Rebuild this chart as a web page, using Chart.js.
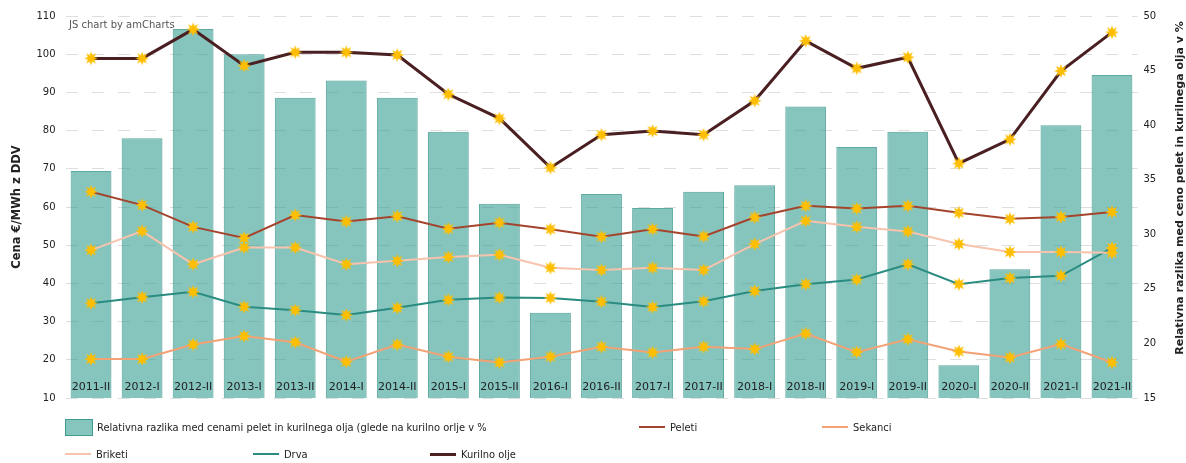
<!DOCTYPE html>
<html>
<head>
<meta charset="utf-8">
<script src="https://cdn.jsdelivr.net/npm/chart.js@4.4.0/dist/chart.umd.min.js"></script>
<style>
  html, body { margin: 0; padding: 0; background: #fff; }
  #wrap { position: relative; width: 1186px; height: 463px; }
  #c { position: absolute; left: 0; top: 0; }
  .lg { position: absolute; display: flex; align-items: center; height: 18px;
        font: 11px "DejaVu Sans Condensed", "DejaVu Sans", sans-serif; color: #222; white-space: nowrap; }
  .lg span.sw { display: inline-block; margin-right: 5px; }
  .wm { position: absolute; left: 69px; top: 19px; font: 10px "DejaVu Sans", sans-serif; color: #555; }
</style>
</head>
<body>
<div id="wrap">
  <canvas id="c" width="1186" height="463"></canvas>
  <div class="wm">JS chart by amCharts</div>
</div>
<script>
const periods = ['2011-II', '2012-I', '2012-II', '2013-I', '2013-II', '2014-I', '2014-II', '2015-I', '2015-II', '2016-I',
  '2016-II', '2017-I', '2017-II', '2018-I', '2018-II', '2019-I', '2019-II', '2020-I', '2020-II', '2021-I', '2021-II'];

// relativna razlika (desna os, %)
const razlika = [35.8, 38.8, 48.8, 46.5, 42.5, 44.1, 42.5, 39.4, 32.8, 22.8, 33.7, 32.4, 33.9, 34.5, 41.7, 38.0, 39.4, 18.0, 26.8, 40.0, 44.6];

// cene (leva os, €/MWh)
const peleti = [64.0, 60.5, 54.8, 51.9, 57.9, 56.2, 57.6, 54.3, 55.9, 54.2, 52.2, 54.2, 52.3, 57.3, 60.3, 59.6, 60.3, 58.5, 56.9, 57.4, 58.7];
const sekanci = [20.2, 20.2, 24.0, 26.2, 24.6, 19.5, 24.0, 20.8, 19.3, 20.8, 23.4, 21.9, 23.4, 22.8, 26.9, 22.0, 25.4, 22.2, 20.6, 24.1, 19.3];
const briketi = [48.7, 53.7, 45.0, 49.4, 49.4, 45.0, 45.9, 46.9, 47.5, 44.1, 43.5, 44.1, 43.5, 50.3, 56.4, 54.8, 53.6, 50.3, 48.2, 48.2, 48.0];
const drva = [34.8, 36.4, 37.8, 33.9, 33.0, 31.7, 33.6, 35.7, 36.3, 36.2, 35.2, 33.8, 35.3, 38.0, 39.8, 41.0, 45.0, 39.8, 41.4, 42.0, 49.3];
const kurilnoOlje = [98.9, 98.9, 106.5, 97.0, 100.5, 100.5, 99.8, 89.5, 83.2, 70.3, 78.9, 79.9, 78.9, 87.8, 103.5, 96.3, 99.2, 71.4, 77.7, 95.6, 105.7];

const leftTitle = 'Cena €/MWh z DDV';
const rightTitle = 'Relativna razlika med ceno pelet in kurilnega olja v %';
const barLabel = 'Relativna razlika med cenami pelet in kurilnega olja (glede na kurilno orlje v %';

// zvezdica za točke
function makeStar() {
  const s = document.createElement('canvas');
  s.width = 16; s.height = 16;
  const g = s.getContext('2d');
  g.fillStyle = '#ffbf00';
  g.beginPath();
  for (let i = 0; i < 16; i++) {
    const r = i % 2 === 0 ? 7 : 3.4;
    const a = -Math.PI / 2 + i * Math.PI / 8;
    const px = 8 + r * Math.cos(a), py = 8 + r * Math.sin(a);
    if (i === 0) g.moveTo(px, py); else g.lineTo(px, py);
  }
  g.closePath();
  g.fill();
  return s;
}
const star = makeStar();

function lineSet(label, data, color, width) {
  return {
    type: 'line', label: label, data: data, yAxisID: 'y',
    borderColor: color, backgroundColor: color, borderWidth: width,
    pointStyle: star, pointRadius: 8, pointHoverRadius: 8,
    tension: 0, order: 0
  };
}

const overlay = {
  id: 'overlay',
  afterDatasetsDraw(chart) {
    const { ctx, chartArea, scales } = chart;
    ctx.save();
    ctx.font = '11px "DejaVu Sans"';
    ctx.fillStyle = '#222';
    ctx.textAlign = 'center';
    ctx.textBaseline = 'middle';
    periods.forEach((p, i) => {
      ctx.fillText(p, scales.x.getPixelForValue(i), chartArea.bottom - 11);
    });
    ctx.font = 'bold 11px "DejaVu Sans"';
    ctx.translate(1180, 188);
    ctx.rotate(-Math.PI / 2);
    ctx.fillText(rightTitle, 0, 0);
    ctx.restore();
  }
};

const chart = new Chart(document.getElementById('c'), {
  type: 'bar',
  data: {
    labels: periods,
    datasets: [
      {
        type: 'bar', label: barLabel, data: razlika, yAxisID: 'y1',
        backgroundColor: 'rgba(52,158,146,0.6)', borderColor: 'rgba(40,140,128,0.75)',
        borderWidth: 1, categoryPercentage: 0.8, barPercentage: 1.0, order: 1
      },
      lineSet('Peleti', peleti, '#a4442d', 2),
      lineSet('Sekanci', sekanci, '#f2a274', 2),
      lineSet('Briketi', briketi, '#f7c3ad', 2),
      lineSet('Drva', drva, '#2a8c80', 2),
      lineSet('Kurilno olje', kurilnoOlje, '#4a1f22', 3)
    ]
  },
  options: {
    responsive: false,
    animation: false,
    layout: { padding: { top: 16, bottom: 65, left: 0, right: 0 } },
    plugins: { legend: { display: false }, tooltip: { enabled: false } },
    scales: {
      x: {
        offset: true,
        ticks: { display: false },
        grid: { display: false, drawTicks: false },
        border: { display: false }
      },
      y: {
        position: 'left', min: 10, max: 110,
        ticks: { stepSize: 10, padding: 10, color: '#222', font: { family: 'DejaVu Sans', size: 10 } },
        grid: { color: '#dedede', drawTicks: false },
        border: { display: false, dash: [12, 14] },
        title: { display: true, text: leftTitle, color: '#222', padding: { top: 10, bottom: 0 },
                 font: { family: 'DejaVu Sans', size: 11.5, weight: 'bold' } },
        afterFit(s) { s.width = 65.5; }
      },
      y1: {
        position: 'right', min: 15, max: 50,
        ticks: { stepSize: 5, padding: 6, color: '#222', font: { family: 'DejaVu Sans', size: 10 } },
        grid: { display: false, drawTicks: false },
        border: { display: false },
        afterFit(s) { s.width = 48.5; }
      }
    }
  },
  plugins: [overlay]
});

// legenda
const legendPos = [
  { left: 65, top: 418, kind: 'box', text: barLabel, color: 'rgba(52,158,146,0.6)', edge: 'rgba(40,140,128,0.75)' },
  { left: 639, top: 418, kind: 'line', text: 'Peleti', color: '#a4442d', w: 2 },
  { left: 822, top: 418, kind: 'line', text: 'Sekanci', color: '#f2a274', w: 2 },
  { left: 65, top: 445, kind: 'line', text: 'Briketi', color: '#f7c3ad', w: 2 },
  { left: 253, top: 445, kind: 'line', text: 'Drva', color: '#2a8c80', w: 2 },
  { left: 430, top: 445, kind: 'line', text: 'Kurilno olje', color: '#4a1f22', w: 3 }
];
const wrap = document.getElementById('wrap');
legendPos.forEach(it => {
  const d = document.createElement('div');
  d.className = 'lg';
  d.style.left = it.left + 'px';
  d.style.top = it.top + 'px';
  const sw = document.createElement('span');
  sw.className = 'sw';
  if (it.kind === 'box') {
    sw.style.width = '26px'; sw.style.height = '15px';
    sw.style.background = it.color; sw.style.border = '1px solid ' + it.edge;
    sw.style.marginRight = '4px';
  } else {
    sw.style.width = '26px'; sw.style.height = it.w + 'px'; sw.style.background = it.color;
  }
  d.appendChild(sw);
  d.appendChild(document.createTextNode(it.text));
  wrap.appendChild(d);
});
</script>
</body>
</html>
